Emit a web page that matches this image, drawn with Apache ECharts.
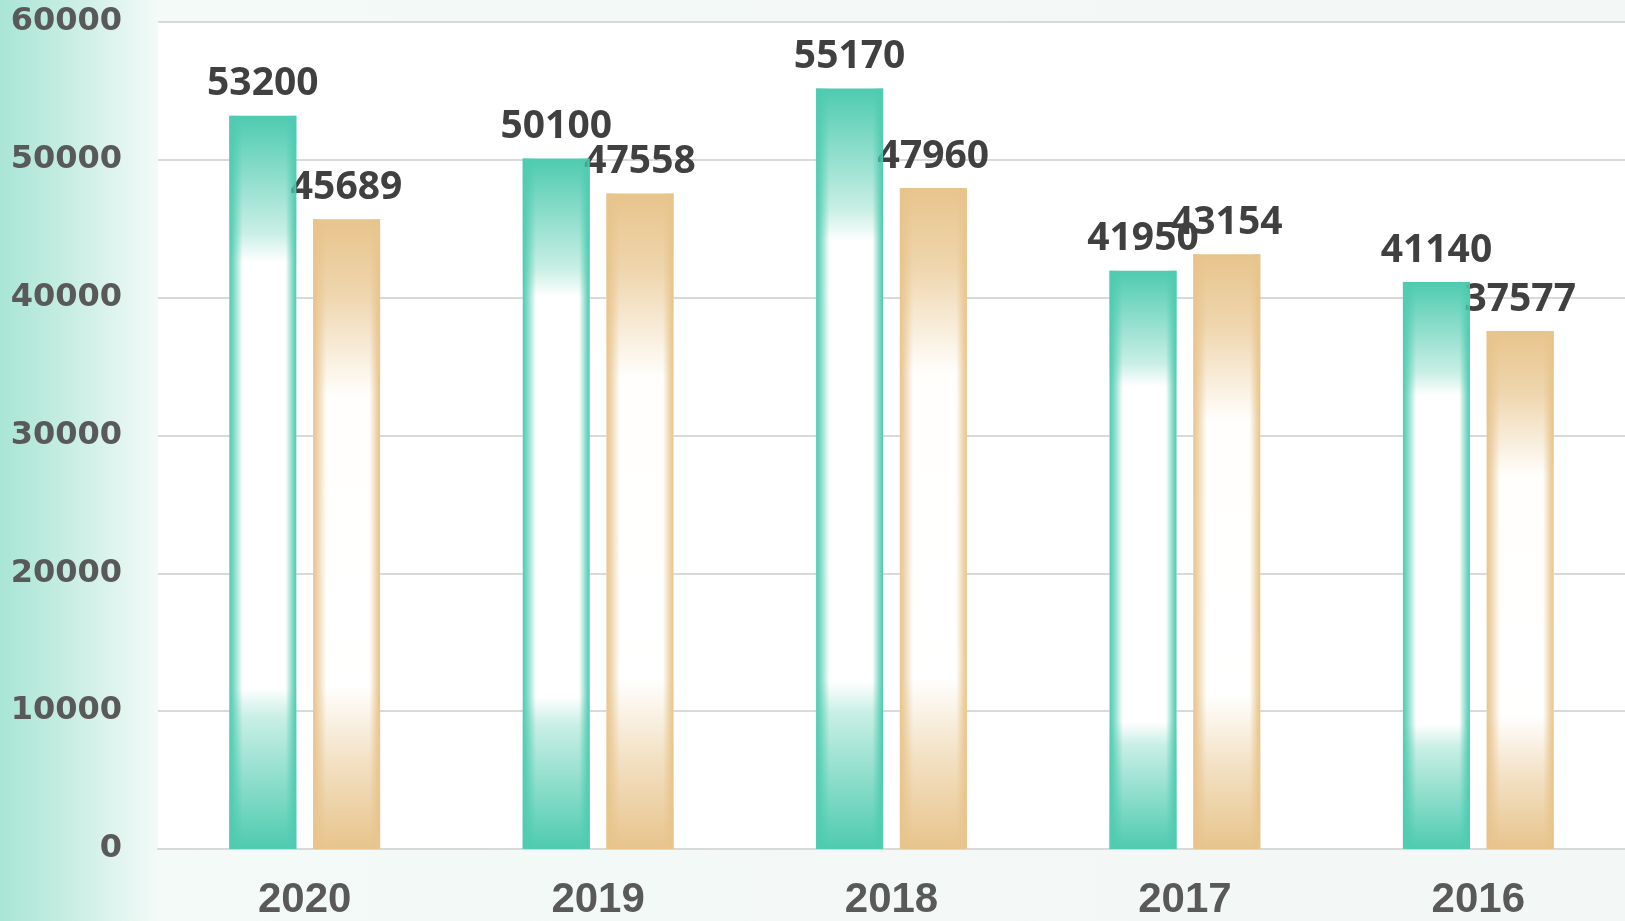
<!DOCTYPE html>
<html>
<head>
<meta charset="utf-8">
<script src="https://cdn.jsdelivr.net/npm/echarts@6/dist/echarts.min.js"></script>
<style>
html,body{margin:0;padding:0;}
#c{width:1625px;height:921px;}
</style>
</head>
<body>
<div id="c"></div>
<script>
const categories = ['2020', '2019', '2018', '2017', '2016'];
const seriesA = [53200, 50100, 55170, 41950, 41140];
const seriesB = [45689, 47558, 47960, 43154, 37577];
const yTicks = [0, 10000, 20000, 30000, 40000, 50000, 60000];

const teal = '#4ecbb0';
const sand = '#e8c48c';

function vGrad(c, mid, a, b) {
  return new echarts.graphic.LinearGradient(0, 0, 0, 1, [
    {offset: 0, color: c},
    {offset: a, color: mid},
    {offset: a + 0.04, color: '#ffffff'},
    {offset: b - 0.04, color: '#ffffff'},
    {offset: b, color: mid},
    {offset: 1, color: c}
  ]);
}
function hGrad(rgb) {
  return new echarts.graphic.LinearGradient(0, 0, 1, 0, [
    {offset: 0, color: 'rgba(' + rgb + ',1)'},
    {offset: 0.06, color: 'rgba(' + rgb + ',0.75)'},
    {offset: 0.2, color: 'rgba(' + rgb + ',0)'},
    {offset: 0.84, color: 'rgba(' + rgb + ',0)'},
    {offset: 0.95, color: 'rgba(' + rgb + ',0.75)'},
    {offset: 1, color: 'rgba(' + rgb + ',1)'}
  ]);
}

const labelStyle = {
  show: true, position: 'top', distance: 12,
  color: '#404040', fontSize: 39, fontWeight: 'bold',
  fontFamily: 'Noto Sans'
};

const chart = echarts.init(document.getElementById('c'), null, {renderer: 'canvas'});
chart.setOption({
  animation: false,
  backgroundColor: new echarts.graphic.LinearGradient(0, 0, 1, 0, [
    {offset: 0, color: '#a9e5d5'},
    {offset: 0.04, color: '#c6ede2'},
    {offset: 0.097, color: '#f3faf8'},
    {offset: 1, color: '#f3f7f6'}
  ]),
  grid: {left: 158, right: 0, top: 22, bottom: 72, show: true, backgroundColor: '#ffffff', borderWidth: 0},
  xAxis: [{
    type: 'category', data: categories,
    axisLine: {show: true, lineStyle: {color: '#d9d9d9', width: 2}},
    axisTick: {show: false},
    axisLabel: {color: '#595959', fontSize: 42, fontWeight: 'bold', fontFamily: 'Liberation Sans', margin: 30}
  }, {
    type: 'category', data: categories, show: false
  }],
  yAxis: {
    type: 'value', min: yTicks[0], max: yTicks[yTicks.length - 1], interval: 10000,
    axisLine: {show: false}, axisTick: {show: false},
    splitLine: {lineStyle: {color: '#d9d9d9', width: 2}},
    axisLabel: {color: '#595959', fontSize: 32, fontWeight: 'bold', fontFamily: 'DejaVu Sans', margin: 36,
      formatter: function (v) { return String(v); }}
  },
  series: [
    {type: 'bar', xAxisIndex: 0, data: seriesA, barWidth: 67, barGap: '25%',
     itemStyle: {color: vGrad(teal, '#c9efe5', 0.16, 0.82)}, label: labelStyle, z: 2},
    {type: 'bar', xAxisIndex: 0, data: seriesB, barWidth: 67, barGap: '25%',
     itemStyle: {color: new echarts.graphic.LinearGradient(0, 0, 0, 1, [
       {offset: 0, color: sand},
       {offset: 0.12, color: '#efd6ae'},
       {offset: 0.28, color: '#fffefc'},
       {offset: 0.74, color: '#ffffff'},
       {offset: 0.86, color: '#f3e1c4'},
       {offset: 1, color: sand}
     ])}, label: labelStyle, z: 2},
    {type: 'bar', xAxisIndex: 1, data: seriesA, barWidth: 67, barGap: '25%', silent: true,
     itemStyle: {color: hGrad('78,203,176')}, z: 3},
    {type: 'bar', xAxisIndex: 1, data: seriesB, barWidth: 67, barGap: '25%', silent: true,
     itemStyle: {color: hGrad('232,196,140')}, z: 3}
  ]
});
</script>
</body>
</html>
